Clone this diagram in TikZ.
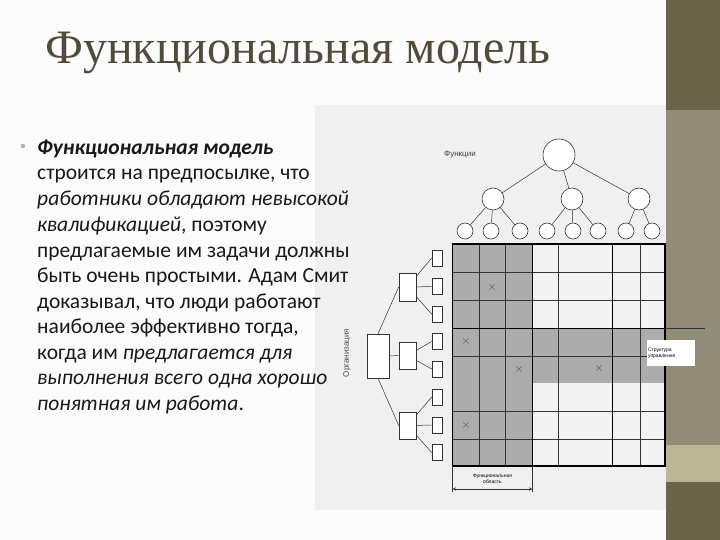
\documentclass[tikz,border=0pt]{standalone}
\usepackage{fontspec}
\setmainfont{Carlito}
\newfontfamily\titlefont{Liberation Serif}
\newfontfamily\smallfont{Liberation Sans}
\definecolor{stripdark}{HTML}{6A6449}
\definecolor{stripmid}{HTML}{8F8C78}
\definecolor{striplight}{HTML}{B8B796}
\definecolor{titlecol}{HTML}{514C3A}
\begin{document}
\begin{tikzpicture}[x=1pt,y=-1pt,
  body/.style={anchor=base west,inner sep=0pt,font=\fontsize{21.5}{24}\selectfont,text=black!90},
  fc/.style={circle,draw=black!80,fill=white,line width=0.6pt,inner sep=0pt},
  ob/.style={rectangle,draw=black!80,fill=white,line width=0.6pt,inner sep=0pt},
  ln/.style={draw=black!80,line width=0.5pt},
  xm/.style={font=\fontsize{12}{12}\selectfont,text=black!70,inner sep=0pt},
  tiny/.style={font=\smallfont\fontsize{5}{6}\selectfont,align=center,inner sep=1pt}]
\useasboundingbox (0,0) rectangle (720,540);
\fill[white!97!gray] (0,0) rectangle (720,540);
% right strip
\fill[stripdark] (666,0) rectangle (720,540);
\fill[stripmid] (666,110) rectangle (720,445);
\fill[striplight] (666,445) rectangle (720,482);
% image background
\fill[gray!12] (315,105) rectangle (666,510);
% title
\node[anchor=base west,inner sep=0pt,font=\titlefont\fontsize{48}{50}\selectfont,text=titlecol] (title) at (45,64) {Функциональная модель};
% body
\node[circle,fill=gray!60,inner sep=1.6pt] (bul) at (23,146) {};
\node[body] (l1) at (37,155) {\bfseries\itshape Функциональная модель};
\node[body] (l2) at (37,180) {строится на предпосылке, что};
\node[body] (l3) at (37,206) {\itshape работники обладают невысокой};
\node[body] (l4) at (37,231) {\itshape квалификацией\upshape, поэтому};
\node[body] (l5) at (37,257) {предлагаемые им задачи должны};
\node[body] (l6) at (37,282) {быть очень простыми. Адам Смит};
\node[body] (l7) at (37,308) {доказывал, что люди работают};
\node[body] (l8) at (37,333) {наиболее эффективно тогда,};
\node[body] (l9) at (37,359) {когда им \itshape предлагается для};
\node[body] (l10) at (37,384) {\itshape выполнения всего одна хорошо};
\node[body] (l11) at (37,410) {\itshape понятная им работа\upshape.};
% grid
\fill[gray!65] (452.7,244) rectangle (532.3,466);
\fill[gray!65] (532.3,328.3) rectangle (665,383.3);
\fill[white!90!gray] (532.3,244) rectangle (665,328.3);
\fill[white!90!gray] (532.3,383.3) rectangle (665,466);
\foreach \y in {272.7,300.7,356.7,411.7,439.3} \draw[ln] (452.7,\y) -- (665,\y);
\foreach \x in {479.3,505.7,558.3,640} \draw[ln] (\x,244) -- (\x,466);
\draw[black,line width=1.3pt] (452.7,244) rectangle (665,466);
\draw[black,line width=1.3pt] (532.3,244) -- (532.3,466) (612.7,244) -- (612.7,466);
\draw[black,line width=1.3pt] (452.7,328.3) -- (665,328.3);
\coordinate (sl) at (705,328.3);
\draw[ln] (665,328.3) -- (sl);
\node[tiny,fill=white,text width=46pt,align=left,minimum height=26pt] (su) at (671,353) {Структура управления};
\foreach \p/\n in {{492,287}/x1,{466,341}/x2,{519,369}/x3,{599,368}/x4,{466,425}/x5} \node[xm] (\n) at (\p) {$\times$};
% function tree
\node[anchor=center,font=\smallfont\fontsize{8}{9}\selectfont,text=black!75] (fl) at (460,155) {Функции};
\node[fc,minimum size=32pt] (f0) at (559,155) {};
\node[fc,minimum size=22pt] (f1) at (493,199) {};
\node[fc,minimum size=22pt] (f2) at (572,199) {};
\node[fc,minimum size=22pt] (f3) at (639,199) {};
\foreach \x/\n in {465/a,491/b,520/c,547/d,573/e,598/f,626/g,652/h} \node[fc,minimum size=16pt] (g\n) at (\x,231) {};
\draw[ln] (f0) -- (f1) (f0) -- (f2) (f0) -- (f3);
\draw[ln] (f1) -- (ga) (f1) -- (gb) (f1) -- (gc) (f2) -- (gd) (f2) -- (ge) (f2) -- (gf) (f3) -- (gg) (f3) -- (gh);
% org chart
\node[ob,minimum width=22pt,minimum height=44pt] (o0) at (378,356) {};
\node[ob,minimum width=17pt,minimum height=28pt] (o1) at (407.5,287) {};
\node[ob,minimum width=17pt,minimum height=27pt] (o2) at (407.5,355.5) {};
\node[ob,minimum width=17pt,minimum height=27pt] (o3) at (407.5,425.5) {};
\foreach \y/\n in {258/a,286.5/b,314/c,341.5/d,369/e,397/f,425/g,452.5/h} \node[ob,minimum width=10pt,minimum height=16pt] (s\n) at (437,\y) {};
\draw[ln] (o0.north) -- (o1.west) (o0.east) -- (o2.west) (o0.south) -- (o3.west);
\draw[ln] (o1) -- (sa.west) (o1) -- (sb) (o1) -- (sc.west);
\draw[ln] (o2) -- (sd.west) (o2) -- (se.west);
\draw[ln] (o3) -- (sf.west) (o3) -- (sg) (o3) -- (sh.west);
\node[rotate=90,font=\smallfont\fontsize{8}{9}\selectfont,text=black!70] (ol) at (347,353) {Организация};
% functional area
\coordinate (da) at (452.7,489);
\coordinate (db) at (532.3,489);
\draw[ln] (452.7,466) -- (452.7,492) (532.3,466) -- (532.3,492);
\draw[ln,<->,>=stealth] (da) -- (db);
\node[tiny] (fa) at (492.5,479) {Функциональная\\область};
\end{tikzpicture}
\end{document}
